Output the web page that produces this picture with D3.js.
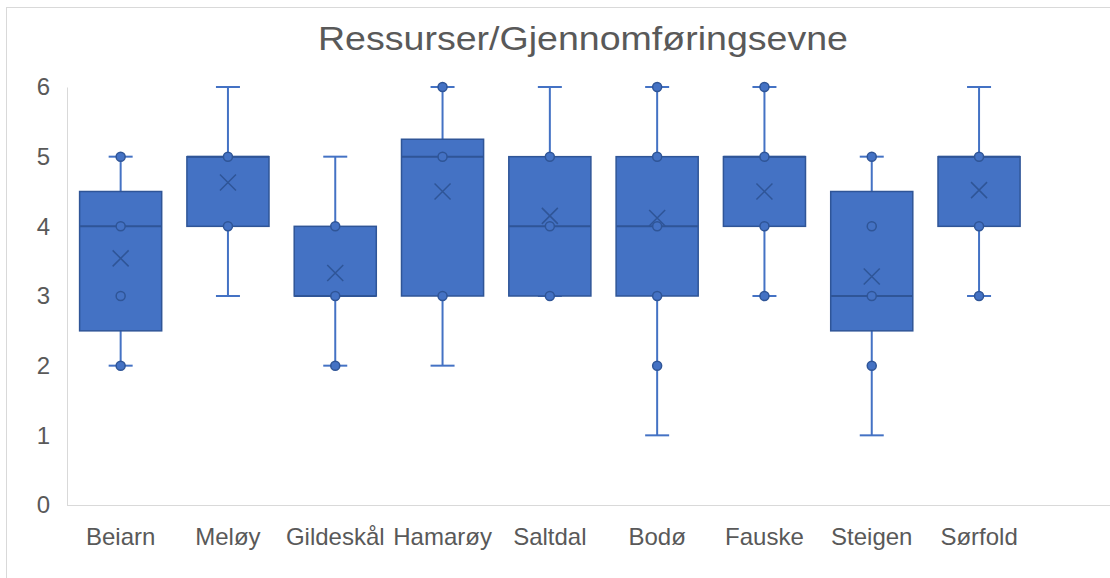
<!DOCTYPE html>
<html lang="no">
<head>
    <meta charset="UTF-8">
    <title>Ressurser/Gjennomføringsevne</title>
    <script src="https://d3js.org/d3.v7.min.js"></script>
    <style>
        body {
            margin: 0;
            background-color: #ffffff;
            font-family: 'Liberation Sans', Arial, sans-serif;
        }
        .axis text {
            font-size: 24px;
            fill: #595959;
        }
        .axis path, .axis line {
            stroke: #d9d9d9;
        }
    </style>
</head>
<body>
    <svg width="1110" height="578" class="chart"></svg>

    <script>
        // Data
        const categories = ["Beiarn", "Meløy", "Gildeskål", "Hamarøy", "Saltdal", "Bodø", "Fauske", "Steigen", "Sørfold"];
        const whiskerLow = [2, 3, 2, 2, 3, 1, 3, 1, 3];
        const whiskerHigh = [5, 6, 5, 6, 6, 6, 6, 5, 6];
        const q1 = [2.5, 4, 3, 3, 3, 3, 4, 2.5, 4];
        const q3 = [4.5, 5, 4, 5.25, 5, 5, 5, 4.5, 5];
        const medians = [4, 5, 3, 5, 4, 4, 5, 3, 5];
        const means = [3.54, 4.63, 3.33, 4.5, 4.15, 4.12, 4.5, 3.28, 4.52];
        const innerPoints = [
            [2, 3, 4, 5],
            [4, 5],
            [2, 3, 4],
            [3, 5, 6],
            [3, 4, 5],
            [2, 3, 4, 5, 6],
            [3, 4, 5, 6],
            [2, 3, 4, 5],
            [3, 4, 5]
        ];
        const yTicks = [0, 1, 2, 3, 4, 5, 6];

        const fillColor = "#4472c4";
        const edgeColor = "#2f5597";

        const svg = d3.select(".chart");
        const width = +svg.attr("width");
        const margin = { top: 87, left: 67, bottom: 505 };
        const bandStep = 107.3;

        // Chart border
        svg.append("rect")
            .attr("x", 6.5)
            .attr("y", 7.5)
            .attr("width", 1200)
            .attr("height", 700)
            .attr("fill", "none")
            .attr("stroke", "#d9d9d9");

        // Title
        svg.append("text")
            .attr("x", 583)
            .attr("y", 50)
            .attr("text-anchor", "middle")
            .attr("textLength", 530)
            .attr("lengthAdjust", "spacingAndGlyphs")
            .style("font-size", "33px")
            .style("fill", "#595959")
            .text("Ressurser/Gjennomføringsevne");

        const x = d3.scaleBand()
            .domain(categories)
            .range([margin.left, margin.left + bandStep * categories.length])
            .paddingInner(0.235)
            .paddingOuter(0.1175);

        const y = d3.scaleLinear()
            .domain([0, 6])
            .range([margin.bottom, margin.top]);

        // Axes
        const yAxis = svg.append("g")
            .attr("class", "axis")
            .attr("transform", `translate(${margin.left},0)`)
            .call(d3.axisLeft(y).tickValues(yTicks).tickFormat(d3.format("d")).tickSize(0).tickPadding(17));
        yAxis.select(".domain").attr("stroke", "#d9d9d9");

        const xAxis = svg.append("g")
            .attr("class", "axis")
            .attr("transform", `translate(0,${margin.bottom})`)
            .call(d3.axisBottom(x).tickSize(0).tickPadding(16));
        xAxis.select(".domain").attr("d", `M${margin.left},0.5H${width}`);
        xAxis.selectAll("text").attr("dy", "1em");

        const rows = categories.map((c, i) => ({
            name: c,
            lo: whiskerLow[i],
            hi: whiskerHigh[i],
            q1: q1[i],
            q3: q3[i],
            med: medians[i],
            mean: means[i],
            pts: innerPoints[i]
        }));

        const groups = svg.append("g")
            .selectAll("g")
            .data(rows)
            .enter()
            .append("g")
            .attr("transform", d => `translate(${x(d.name) + x.bandwidth() / 2},0)`);

        const capHalf = 12;

        // Whiskers
        groups.append("line")
            .attr("x1", 0).attr("x2", 0)
            .attr("y1", d => y(d.lo)).attr("y2", d => y(d.hi))
            .attr("stroke", fillColor)
            .attr("stroke-width", 2);
        groups.append("line")
            .attr("x1", -capHalf).attr("x2", capHalf)
            .attr("y1", d => y(d.lo)).attr("y2", d => y(d.lo))
            .attr("stroke", fillColor)
            .attr("stroke-width", 2);
        groups.append("line")
            .attr("x1", -capHalf).attr("x2", capHalf)
            .attr("y1", d => y(d.hi)).attr("y2", d => y(d.hi))
            .attr("stroke", fillColor)
            .attr("stroke-width", 2);

        // Boxes
        groups.append("rect")
            .attr("x", -x.bandwidth() / 2)
            .attr("width", x.bandwidth())
            .attr("y", d => y(d.q3))
            .attr("height", d => y(d.q1) - y(d.q3))
            .attr("fill", fillColor)
            .attr("stroke", edgeColor)
            .attr("stroke-width", 1.5);

        // Medians
        groups.append("line")
            .attr("x1", -x.bandwidth() / 2).attr("x2", x.bandwidth() / 2)
            .attr("y1", d => y(d.med)).attr("y2", d => y(d.med))
            .attr("stroke", edgeColor)
            .attr("stroke-width", 2);

        // Inner points
        groups.selectAll("circle")
            .data(d => d.pts)
            .enter()
            .append("circle")
            .attr("cx", 0)
            .attr("cy", v => y(v))
            .attr("r", 4.5)
            .attr("fill", fillColor)
            .attr("stroke", edgeColor)
            .attr("stroke-width", 1.5);

        // Mean markers
        const meanHalf = 8;
        groups.append("path")
            .attr("d", d => {
                const m = y(d.mean);
                return `M${-meanHalf},${m - meanHalf}L${meanHalf},${m + meanHalf}M${-meanHalf},${m + meanHalf}L${meanHalf},${m - meanHalf}`;
            })
            .attr("stroke", edgeColor)
            .attr("stroke-width", 1.5)
            .attr("fill", "none");
    </script>
</body>
</html>
